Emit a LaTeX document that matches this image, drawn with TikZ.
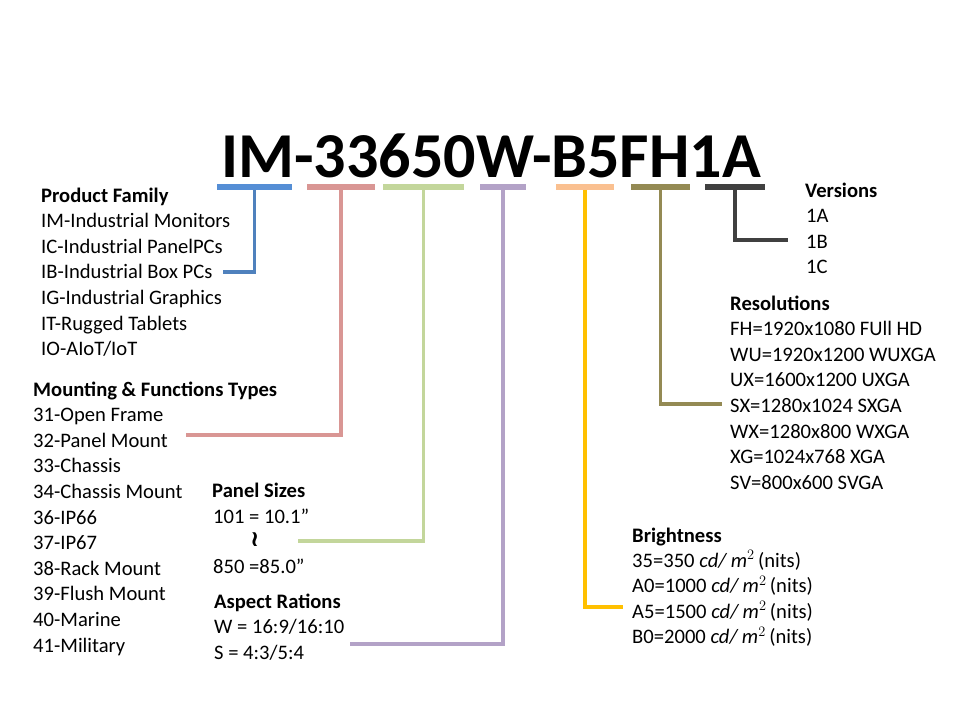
\documentclass[tikz,border=0pt]{standalone}
\usepackage{fontspec}
\setmainfont{Carlito}
\newfontfamily\symfont{DejaVu Sans}
\begin{document}
\begin{tikzpicture}[x=1pt,y=-1pt,
    item/.style={anchor=base west, inner sep=0pt, font=\fontsize{20.6}{24}\selectfont},
    head/.style={item, font=\fontsize{20.6}{24}\selectfont\bfseries},
    bar/.style={rectangle, inner sep=0pt, minimum height=6pt},
    stem/.style={line width=3.5pt}]
    % Define colors
    \definecolor{familybar}{RGB}{85,142,213}
    \definecolor{familyline}{RGB}{79,129,189}
    \definecolor{mountcolor}{RGB}{217,150,148}
    \definecolor{sizecolor}{RGB}{195,214,155}
    \definecolor{ratiocolor}{RGB}{179,162,199}
    \definecolor{brightbar}{RGB}{250,192,144}
    \definecolor{brightline}{RGB}{255,192,0}
    \definecolor{rescolor}{RGB}{148,138,84}
    \definecolor{vercolor}{RGB}{64,64,64}

    \useasboundingbox[fill=white] (0,0) rectangle (960,720);

    % Title
    \node[font=\fontsize{64}{70}\selectfont\bfseries, anchor=base, inner sep=0pt] (title) at (491,177) {IM-33650W-B5FH1A};

    % Bars under the code
    \foreach \name/\cx/\w/\col in {family/254.5/75/familybar, mount/341/68/mountcolor,
        size/423.5/81/sizecolor, ratio/503/46/ratiocolor, bright/585/58/brightbar,
        res/660.5/59/rescolor, ver/735/60/vercolor}
    \node[bar, fill=\col, minimum width=\w pt] (\name bar) at (\cx,187) {};

    % Ends of the connectors
    \coordinate (familyend) at (223,272);
    \coordinate (mountend) at (186,435);
    \coordinate (sizeend) at (298,541);
    \coordinate (ratioend) at (350,644);
    \coordinate (brightend) at (623,607);
    \coordinate (resend) at (722,404);
    \coordinate (verend) at (788,240);

    % Connectors
    \draw[stem, familyline] (familybar) |- (familyend);
    \draw[stem, mountcolor] (mountbar) |- (mountend);
    \draw[stem, sizecolor] (sizebar) |- (sizeend);
    \draw[stem, ratiocolor] (ratiobar) |- (ratioend);
    \draw[stem, brightline] (brightbar) |- (brightend);
    \draw[stem, rescolor] (resbar) |- (resend);
    \draw[stem, vercolor] (verbar) |- (verend);

    % Product family
    \node[head] (family) at (41,202) {Product Family};
    \foreach \t [count=\i] in {IM-Industrial Monitors, IC-Industrial PanelPCs,
        IB-Industrial Box PCs, IG-Industrial Graphics, IT-Rugged Tablets, {IO-AIoT/IoT}}
    \node[item] (family\i) at (41,{202+25.6*\i}) {\t};

    % Mounting types
    \node[head] (mount) at (33,396) {Mounting \& Functions Types};
    \foreach \t [count=\i] in {31-Open Frame, 32-Panel Mount, 33-Chassis, 34-Chassis Mount,
        36-IP66, 37-IP67, 38-Rack Mount, 39-Flush Mount, 40-Marine, 41-Military}
    \node[item] (mount\i) at (33,{396+25.6*\i}) {\t};

    % Panel sizes
    \node[head] (size) at (212,497) {Panel Sizes};
    \node[item] (size1) at (213,523) {101 = 10.1”};
    \node[item, font=\fontsize{20}{24}\symfont\bfseries] (size2) at (250,546) {\scalebox{1.25}[1.1]{≀}};
    \node[item] (size3) at (213,573) {850 =85.0”};

    % Aspect ratios
    \node[head] (ratio) at (214,608) {Aspect Rations};
    \foreach \t [count=\i] in {W = 16:9/16:10, S = 4:3/5:4}
    \node[item] (ratio\i) at (214,{608+25.6*\i}) {\t};

    % Versions
    \node[head] (ver) at (805,197) {Versions};
    \foreach \t [count=\i] in {1A, 1B, 1C}
    \node[item] (ver\i) at (806,{197+25.6*\i}) {\t};

    % Resolutions
    \node[head] (res) at (730,310) {Resolutions};
    \foreach \t [count=\i] in {FH=1920x1080 FUll HD, WU=1920x1200 WUXGA, UX=1600x1200 UXGA,
        SX=1280x1024 SXGA, WX=1280x800 WXGA, XG=1024x768 XGA, SV=800x600 SVGA}
    \node[item] (res\i) at (730,{310+25.6*\i}) {\t};

    % Brightness
    \node[head] (bright) at (632,542) {Brightness};
    \foreach \t [count=\i] in {35=350, A0=1000, A5=1500, B0=2000}
    \node[item] (bright\i) at (632,{542+25.4*\i}) {\t\ \textit{cd/}\,$\mathit{m}^{2}$\,(nits)};
\end{tikzpicture}
\end{document}
